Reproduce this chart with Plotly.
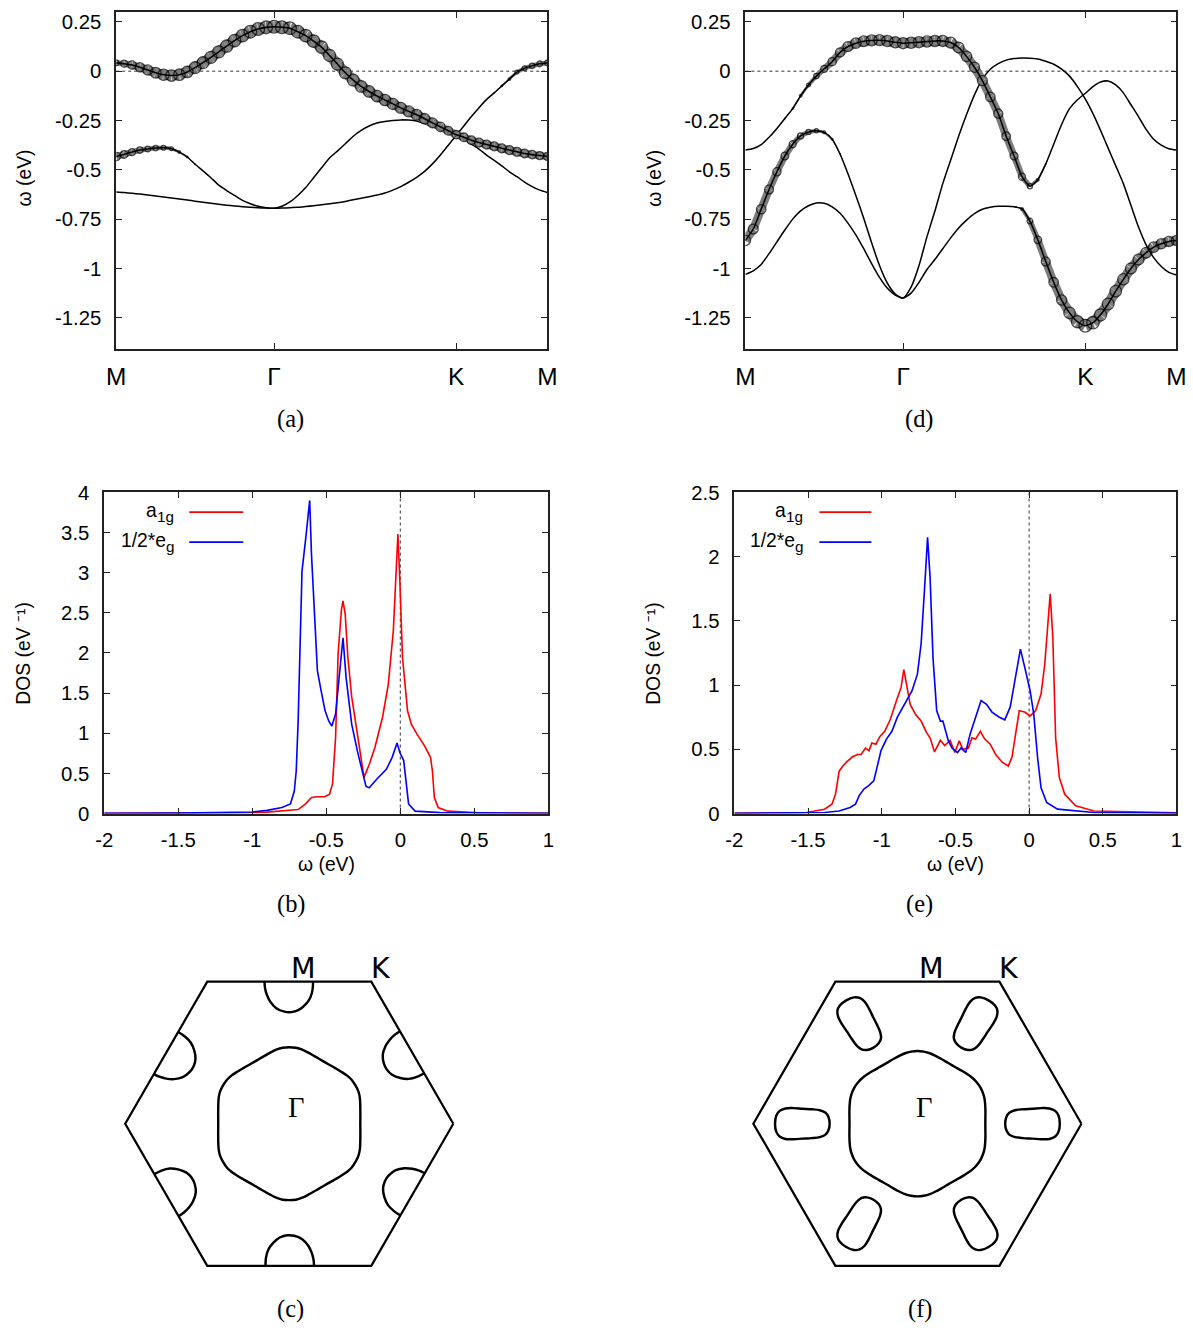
import numpy as np
import plotly.graph_objects as go

W, H = 1193, 1328

# ---------------- band structure: k path ----------------
k_ticks = [0.0, 0.866, 1.866, 2.366]
k_ticktext = ['M', 'Γ', 'K', 'M']
k = np.concatenate([np.linspace(0.0, 0.866, 21),
                    np.linspace(0.866, 1.866, 24)[1:],
                    np.linspace(1.866, 2.366, 13)[1:]])

e_ticks = [0.25, 0, -0.25, -0.5, -0.75, -1, -1.25]
e_ticktext = ['0.25', '0', '-0.25', '-0.5', '-0.75', '-1', '-1.25']

# panel (a): three branches, energies (eV) and a1g weights
a_E1 = [0.042, 0.038, 0.031, 0.020, 0.006, -0.008, -0.018, -0.022, -0.018, -0.004, 0.018, 0.043, 0.070, 0.098, 0.127, 0.155, 0.180, 0.200, 0.214, 0.222, 0.225,
        0.223, 0.218, 0.200, 0.180, 0.152, 0.122, 0.080, 0.036, -0.008, -0.045, -0.077, -0.103, -0.126, -0.146, -0.166, -0.186, -0.204, -0.221, -0.241, -0.262, -0.282, -0.302, -0.322,
        -0.335, -0.350, -0.362, -0.372, -0.381, -0.391, -0.400, -0.409, -0.417, -0.423, -0.428, -0.432]
a_W1 = [0.45, 0.55, 0.65, 0.72, 0.8, 0.85, 0.88, 0.9, 0.9, 0.9, 0.92, 0.93, 0.94, 0.95, 0.96, 0.97, 0.98, 0.99, 1, 1, 1,
        1, 1, 0.99, 0.98, 0.97, 0.96, 0.95, 0.94, 0.93, 0.92, 0.91, 0.9, 0.9, 0.89, 0.88, 0.87, 0.86, 0.85, 0.82, 0.78, 0.74, 0.7, 0.66,
        0.67, 0.68, 0.69, 0.7, 0.7, 0.7, 0.7, 0.7, 0.68, 0.66, 0.64, 0.62]
a_E2 = [-0.433, -0.422, -0.410, -0.400, -0.394, -0.390, -0.388, -0.393, -0.410, -0.435, -0.472, -0.505, -0.540, -0.578, -0.605, -0.630, -0.655, -0.672, -0.685, -0.692, -0.695,
        -0.685, -0.663, -0.630, -0.590, -0.540, -0.490, -0.440, -0.405, -0.368, -0.330, -0.300, -0.278, -0.263, -0.255, -0.250, -0.247, -0.248, -0.252, -0.265, -0.282, -0.297, -0.312, -0.325,
        -0.345, -0.370, -0.395, -0.425, -0.452, -0.480, -0.510, -0.535, -0.562, -0.585, -0.603, -0.615]
a_W2 = [0.65, 0.6, 0.55, 0.5, 0.45, 0.42, 0.38, 0.3, 0.2, 0.12, 0.05] + [0] * 45
a_E3 = [-0.612, -0.615, -0.619, -0.623, -0.628, -0.633, -0.638, -0.643, -0.648, -0.653, -0.659, -0.664, -0.669, -0.674, -0.679, -0.683, -0.687, -0.690, -0.692, -0.694, -0.695,
        -0.694, -0.692, -0.690, -0.686, -0.682, -0.677, -0.672, -0.667, -0.660, -0.652, -0.644, -0.637, -0.628, -0.618, -0.603, -0.585, -0.563, -0.538, -0.508, -0.470, -0.425, -0.375, -0.325,
        -0.278, -0.230, -0.185, -0.143, -0.110, -0.075, -0.040, -0.005, 0.015, 0.027, 0.037, 0.042]
a_W3 = [0] * 48 + [0.05, 0.12, 0.2, 0.3, 0.38, 0.42, 0.45, 0.45]

# panel (d)
d_E1 = [-0.400, -0.392, -0.372, -0.335, -0.290, -0.240, -0.190, -0.125, -0.070, -0.025, 0.012, 0.048, 0.095, 0.125, 0.142, 0.152, 0.156, 0.157, 0.153, 0.146, 0.142,
        0.144, 0.147, 0.150, 0.153, 0.153, 0.145, 0.120, 0.075, 0.020, -0.048, -0.130, -0.215, -0.330, -0.430, -0.535, -0.583, -0.550, -0.470, -0.370, -0.270, -0.190, -0.145, -0.112,
        -0.078, -0.055, -0.050, -0.070, -0.110, -0.170, -0.230, -0.295, -0.345, -0.375, -0.393, -0.400]
d_W1 = [0, 0, 0, 0, 0, 0.05, 0.1, 0.2, 0.3, 0.42, 0.55, 0.65, 0.72, 0.78, 0.82, 0.85, 0.86, 0.87, 0.88, 0.88, 0.88,
        0.88, 0.88, 0.88, 0.88, 0.87, 0.86, 0.85, 0.82, 0.8, 0.78, 0.75, 0.72, 0.68, 0.62, 0.55, 0.4, 0.2, 0.05, 0, 0, 0, 0, 0,
        0, 0, 0, 0, 0, 0, 0, 0, 0, 0, 0, 0]
d_E2 = [-0.858, -0.800, -0.700, -0.600, -0.510, -0.430, -0.370, -0.328, -0.308, -0.302, -0.310, -0.345, -0.420, -0.520, -0.630, -0.745, -0.870, -0.985, -1.075, -1.130, -1.150,
        -1.095, -0.985, -0.840, -0.710, -0.570, -0.450, -0.330, -0.220, -0.120, -0.040, 0.010, 0.038, 0.056, 0.064, 0.067, 0.066, 0.062, 0.050, 0.035, 0.010, -0.025, -0.078, -0.142,
        -0.215, -0.300, -0.390, -0.480, -0.570, -0.680, -0.790, -0.880, -0.945, -0.990, -1.020, -1.033]
d_W2 = [0.8, 0.78, 0.74, 0.7, 0.65, 0.6, 0.55, 0.48, 0.4, 0.32, 0.22, 0.12, 0.05] + [0] * 43
d_E3 = [-1.030, -1.012, -0.980, -0.925, -0.865, -0.805, -0.750, -0.708, -0.682, -0.668, -0.670, -0.688, -0.720, -0.770, -0.830, -0.900, -0.975, -1.045, -1.100, -1.135, -1.150,
        -1.125, -1.070, -1.005, -0.955, -0.900, -0.845, -0.795, -0.755, -0.722, -0.700, -0.690, -0.685, -0.685, -0.687, -0.698, -0.760, -0.855, -0.965, -1.070, -1.160, -1.225, -1.270, -1.290,
        -1.275, -1.235, -1.180, -1.115, -1.055, -1.000, -0.955, -0.920, -0.892, -0.875, -0.863, -0.858]
d_W3 = [0] * 35 + [0.2, 0.45, 0.6, 0.7, 0.75, 0.8, 0.9, 0.95, 1.0] + [0.98, 0.95, 0.92, 0.9, 0.88, 0.86, 0.85, 0.84, 0.82, 0.8, 0.8, 0.8]

# ---------------- DOS data ----------------
b_red_x = [-2.0, -1.5, -1.0, -0.9, -0.794, -0.69, -0.64, -0.60, -0.56, -0.51, -0.478, -0.458, -0.437, -0.42, -0.398, -0.387, -0.372, -0.354, -0.328, -0.29,
           -0.263, -0.245, -0.21, -0.172, -0.12, -0.081, -0.047, -0.03, -0.016, -0.003, 0.015, 0.049, 0.075, 0.113, 0.165, 0.204, 0.217, 0.23, 0.256, 0.32, 0.53, 1.0]
b_red_y = [0.002, 0.004, 0.01, 0.018, 0.03, 0.05, 0.12, 0.2, 0.21, 0.21, 0.24, 0.37, 0.95, 1.99, 2.53, 2.65, 2.48, 1.94, 1.45, 0.99,
           0.61, 0.45, 0.61, 0.82, 1.2, 1.61, 2.28, 2.9, 3.48, 2.9, 1.94, 1.28, 1.11, 0.99, 0.84, 0.70, 0.53, 0.2, 0.075, 0.03, 0.01, 0.004]
b_blue_x = [-2.0, -1.5, -1.0, -0.9, -0.8, -0.742, -0.716, -0.703, -0.69, -0.677, -0.664, -0.638, -0.612, -0.6, -0.58, -0.56, -0.535, -0.508, -0.483, -0.462,
            -0.437, -0.41, -0.387, -0.366, -0.328, -0.29, -0.25, -0.232, -0.21, -0.158, -0.094, -0.055, -0.022, -0.003, 0.023, 0.04, 0.056, 0.1, 0.27, 1.0]
b_blue_y = [0.003, 0.006, 0.02, 0.04, 0.075, 0.12, 0.28, 0.53, 1.15, 2.19, 3.02, 3.44, 3.9, 3.23, 2.4, 1.78, 1.53, 1.28, 1.15, 1.09,
            1.24, 1.78, 2.19, 1.69, 1.11, 0.78, 0.45, 0.34, 0.32, 0.43, 0.55, 0.70, 0.88, 0.76, 0.66, 0.37, 0.12, 0.03, 0.012, 0.004]

e_red_x = [-2.0, -1.7, -1.51, -1.388, -1.338, -1.314, -1.289, -1.264, -1.24, -1.2, -1.165, -1.14, -1.11, -1.086, -1.067, -1.04, -1.012, -0.98, -0.943, -0.894,
           -0.869, -0.85, -0.832, -0.807, -0.77, -0.733, -0.696, -0.672, -0.642, -0.602, -0.573, -0.536, -0.504, -0.474, -0.45, -0.412, -0.388, -0.363, -0.331, -0.301,
           -0.264, -0.227, -0.183, -0.141, -0.116, -0.091, -0.067, -0.03, 0.007, 0.044, 0.081, 0.106, 0.126, 0.143, 0.161, 0.18, 0.205, 0.242, 0.316, 0.44, 1.0]
e_red_y = [0.002, 0.004, 0.008, 0.034, 0.073, 0.15, 0.33, 0.37, 0.40, 0.44, 0.46, 0.46, 0.51, 0.49, 0.55, 0.54, 0.60, 0.64, 0.73, 0.90,
           0.98, 1.12, 1.01, 0.85, 0.77, 0.72, 0.63, 0.59, 0.48, 0.57, 0.53, 0.57, 0.475, 0.566, 0.50, 0.51, 0.59, 0.58, 0.64, 0.58,
           0.54, 0.46, 0.40, 0.37, 0.44, 0.62, 0.80, 0.79, 0.76, 0.80, 0.93, 1.16, 1.5, 1.71, 1.37, 0.59, 0.28, 0.15, 0.06, 0.02, 0.005]
e_blue_x = [-2.0, -1.6, -1.388, -1.289, -1.215, -1.178, -1.153, -1.121, -1.091, -1.054, -1.03, -1.005, -0.968, -0.931, -0.894, -0.844, -0.795, -0.758, -0.733, -0.709,
            -0.689, -0.672, -0.652, -0.627, -0.602, -0.585, -0.568, -0.548, -0.523, -0.486, -0.462, -0.43, -0.4, -0.363, -0.326, -0.289, -0.252, -0.202, -0.165, -0.128,
            -0.091, -0.059, -0.03, 0.007, 0.032, 0.057, 0.081, 0.119, 0.193, 0.44, 1.0]
e_blue_y = [0.002, 0.004, 0.008, 0.02, 0.047, 0.073, 0.14, 0.19, 0.215, 0.254, 0.38, 0.49, 0.58, 0.64, 0.75, 0.85, 0.955, 1.085, 1.32, 1.76,
            2.15, 1.84, 1.21, 0.80, 0.72, 0.72, 0.64, 0.566, 0.51, 0.475, 0.51, 0.475, 0.62, 0.75, 0.88, 0.85, 0.79, 0.75, 0.73, 0.83,
            1.06, 1.28, 1.14, 0.955, 0.77, 0.44, 0.2, 0.086, 0.034, 0.008, 0.003]

dos_xticks = [-2, -1.5, -1, -0.5, 0, 0.5, 1]
dos_xticktext = ['-2', '-1.5', '-1', '-0.5', '0', '0.5', '1']
b_yticks = [0, 0.5, 1, 1.5, 2, 2.5, 3, 3.5, 4]
b_yticktext = ['0', '0.5', '1', '1.5', '2', '2.5', '3', '3.5', '4']
e_yticks = [0, 0.5, 1, 1.5, 2, 2.5]
e_yticktext = ['0', '0.5', '1', '1.5', '2', '2.5']

# ---------------- Fermi surface data (BZ units, Gamma-K = 1) ----------------
gamma_theta_deg = [0, 5, 10, 15, 20, 25, 30]
c_gamma_r = [0.433, 0.435, 0.440, 0.448, 0.458, 0.465, 0.466]
f_gamma_r = [0.414, 0.416, 0.421, 0.428, 0.436, 0.441, 0.443]
c_pocket_t = [-0.151, -0.148, -0.137, -0.116, -0.079, -0.030, 0.012, 0.055, 0.098, 0.128, 0.142, 0.145]
c_pocket_d = [0.0, 0.037, 0.079, 0.122, 0.162, 0.183, 0.186, 0.174, 0.140, 0.098, 0.049, 0.0]
f_pocket_center = 0.70
f_pocket_u = [-0.165, -0.157, -0.138, -0.105, -0.055, 0.0, 0.055, 0.105, 0.140, 0.160, 0.168]
f_pocket_v = [0.0, 0.042, 0.068, 0.082, 0.088, 0.091, 0.095, 0.093, 0.078, 0.050, 0.0]

# ---------------- page placement helpers ----------------
# the photographed page shows the figure slightly shrunk with a small white border;
# positions below are given in target-picture pixels and mapped back onto the figure.
S, O = 0.983, 10.8
G = 1 / S

def fpx(p, n):
    return min(max((p - O) / S, 1.0), n - 1.0)

def px(p):
    return fpx(p, W) / W

def py(p):
    return 1 - fpx(p, H) / H

fig = go.Figure()

FONT = 'Liberation Sans, Arial, sans-serif'
SERIF = 'Liberation Serif, Times New Roman, serif'
AX = dict(showline=True, linecolor='#222', linewidth=1.5 * G, mirror='allticks', ticks='inside',
          ticklen=6 * G, tickwidth=1, tickcolor='#222', showgrid=False, zeroline=False,
          tickfont=dict(family=FONT, size=20 * G, color='black'))

def add_bands(xa, ya, branches):
    for E, Wt in branches:
        for i in range(len(k) - 1):
            w = 0.5 * (Wt[i] + Wt[i + 1])
            if w >= 0.05:
                fig.add_trace(go.Scatter(x=[k[i], k[i + 1]], y=[E[i], E[i + 1]], mode='lines',
                                         xaxis=xa, yaxis=ya,
                                         line=dict(color='#7c7c7c', width=11 * G * w),
                                         hoverinfo='skip', showlegend=False))
        fig.add_trace(go.Scatter(x=k, y=E, mode='lines', xaxis=xa, yaxis=ya,
                                 line=dict(color='black', width=1.5 * G, shape='spline', smoothing=0.6),
                                 hoverinfo='skip', showlegend=False))
        sizes = [12.5 * G * w if w >= 0.05 else 0 for w in Wt]
        fig.add_trace(go.Scatter(x=k, y=E, mode='markers', xaxis=xa, yaxis=ya,
                                 marker=dict(symbol='circle-open', size=sizes, color='black',
                                             line=dict(width=1.3, color='black')),
                                 hoverinfo='skip', showlegend=False))

add_bands('x', 'y', [(a_E3, a_W3), (a_E2, a_W2), (a_E1, a_W1)])
add_bands('x2', 'y2', [(d_E3, d_W3), (d_E2, d_W2), (d_E1, d_W1)])

def add_dos(xa, ya, rx, ry, bx, by):
    fig.add_trace(go.Scatter(x=rx, y=ry, mode='lines', xaxis=xa, yaxis=ya,
                             line=dict(color='#ff0000', width=1.6 * G), hoverinfo='skip', showlegend=False))
    fig.add_trace(go.Scatter(x=bx, y=by, mode='lines', xaxis=xa, yaxis=ya,
                             line=dict(color='#0000ff', width=1.6 * G), hoverinfo='skip', showlegend=False))

add_dos('x3', 'y3', b_red_x, b_red_y, b_blue_x, b_blue_y)
add_dos('x4', 'y4', e_red_x, e_red_y, e_blue_x, e_blue_y)

def hexagon():
    ang = np.radians(np.arange(0, 361, 60))
    return np.cos(ang), np.sin(ang)

def gamma_pocket(rs):
    th, rr = [], []
    for n in range(6):
        for s, r in zip(gamma_theta_deg, rs):
            th.append(60 * n + s); rr.append(r)
        for s, r in zip(gamma_theta_deg[::-1][1:-1], rs[::-1][1:-1]):
            th.append(60 * n + 60 - s); rr.append(r)
    th.append(th[0]); rr.append(rr[0])
    th = np.radians(th); rr = np.array(rr)
    return rr * np.cos(th), rr * np.sin(th)

def add_fs(xa, ya, rs, pockets):
    hx, hy = hexagon()
    fig.add_trace(go.Scatter(x=hx, y=hy, mode='lines', xaxis=xa, yaxis=ya,
                             line=dict(color='black', width=2.2 * G), hoverinfo='skip', showlegend=False))
    gx, gy = gamma_pocket(rs)
    fig.add_trace(go.Scatter(x=gx, y=gy, mode='lines', xaxis=xa, yaxis=ya,
                             line=dict(color='black', width=2.4 * G, shape='spline', smoothing=0.8),
                             hoverinfo='skip', showlegend=False))
    for px_, py_ in pockets:
        fig.add_trace(go.Scatter(x=px_, y=py_, mode='lines', xaxis=xa, yaxis=ya,
                                 line=dict(color='black', width=2.4 * G, shape='spline', smoothing=1.0),
                                 hoverinfo='skip', showlegend=False))

c_pockets = []
for n in range(6):
    phi = np.radians(90 + 60 * n)
    m0 = 0.866 * np.array([np.cos(phi), np.sin(phi)])
    tv = np.array([np.sin(phi), -np.cos(phi)])
    nv = -np.array([np.cos(phi), np.sin(phi)])
    t = np.array(c_pocket_t); d = np.array(c_pocket_d)
    pts = m0[:, None] + tv[:, None] * t + nv[:, None] * d
    c_pockets.append((pts[0], pts[1]))

f_pockets = []
u_full = np.array(f_pocket_u + f_pocket_u[::-1][1:])
v_full = np.array(f_pocket_v + [-v for v in f_pocket_v[::-1][1:]])
for n in range(6):
    phi = np.radians(60 * n)
    rv = np.array([np.cos(phi), np.sin(phi)])
    pv = np.array([-np.sin(phi), np.cos(phi)])
    pts = rv[:, None] * (f_pocket_center + u_full) + pv[:, None] * v_full
    f_pockets.append((pts[0], pts[1]))

add_fs('x5', 'y5', c_gamma_r, c_pockets)
add_fs('x6', 'y6', f_gamma_r, f_pockets)

band_y = [py(349), py(6.7)]
dos_y = [py(813), py(492)]
fs_y = [py(1291), py(955)]

bx = dict(AX, tickvals=k_ticks, ticktext=k_ticktext, range=[0, 2.366],
          tickfont=dict(family=FONT, size=24 * G, color='black'), ticklabelstandoff=5)
by = dict(AX, tickvals=e_ticks, ticktext=e_ticktext, range=[-1.41, 0.30], ticklabelstandoff=9)

fig.update_layout(
    xaxis=dict(bx, domain=[px(117), px(548)], anchor='y'),
    yaxis=dict(by, domain=band_y, anchor='x'),
    xaxis2=dict(bx, domain=[px(746), px(1177)], anchor='y2'),
    yaxis2=dict(by, domain=band_y, anchor='x2'),
    xaxis3=dict(AX, domain=[px(105), px(549)], anchor='y3', range=[-2, 1],
                tickvals=dos_xticks, ticktext=dos_xticktext, ticklabelstandoff=7),
    yaxis3=dict(AX, domain=dos_y, anchor='x3', range=[0, 4],
                tickvals=b_yticks, ticktext=b_yticktext, ticklabelstandoff=9),
    xaxis4=dict(AX, domain=[px(735), px(1177)], anchor='y4', range=[-2, 1],
                tickvals=dos_xticks, ticktext=dos_xticktext, ticklabelstandoff=7),
    yaxis4=dict(AX, domain=dos_y, anchor='x4', range=[0, 2.5],
                tickvals=e_yticks, ticktext=e_yticktext, ticklabelstandoff=9),
    xaxis5=dict(domain=[px(110), px(470)], anchor='y5', range=[-1.0976, 1.0976], visible=False),
    yaxis5=dict(domain=fs_y, anchor='x5', range=[-1.0244, 1.0244], visible=False),
    xaxis6=dict(domain=[px(738), px(1098)], anchor='y6', range=[-1.0976, 1.0976], visible=False),
    yaxis6=dict(domain=fs_y, anchor='x6', range=[-1.0244, 1.0244], visible=False),
    width=W, height=H, margin=dict(l=0, r=0, t=0, b=0),
    paper_bgcolor='white', plot_bgcolor='white', showlegend=False,
)

shapes = []
for xa, ya in [('x', 'y'), ('x2', 'y2')]:
    shapes.append(dict(type='line', xref=xa + ' domain', yref=ya, x0=0, x1=1, y0=0, y1=0,
                       line=dict(color='#333', width=1, dash='dot'), layer='below'))
for xa, ya in [('x3', 'y3'), ('x4', 'y4')]:
    shapes.append(dict(type='line', xref=xa, yref=ya + ' domain', x0=0, x1=0, y0=0, y1=1,
                       line=dict(color='#333', width=1, dash='dot'), layer='below'))
for (x0, x1) in [(190, 244), (820, 872)]:
    shapes.append(dict(type='line', xref='paper', yref='paper', x0=px(x0), x1=px(x1),
                       y0=py(511.7), y1=py(511.7), line=dict(color='#ff0000', width=1.6 * G)))
    shapes.append(dict(type='line', xref='paper', yref='paper', x0=px(x0), x1=px(x1),
                       y0=py(541.7), y1=py(541.7), line=dict(color='#0000ff', width=1.6 * G)))
fig.update_layout(shapes=shapes)

ann = []
def add_text(text, x, y, size, family=FONT, angle=0, xanchor='center', yanchor='middle', ref=('paper', 'paper'), yshift=0, xshift=0):
    ann.append(dict(text=text, x=x, y=y, xref=ref[0], yref=ref[1], showarrow=False,
                    font=dict(family=family, size=size * G, color='black'), textangle=angle,
                    xanchor=xanchor, yanchor=yanchor, yshift=yshift, xshift=xshift))

for lab, x, y in [('(a)', 291, 419), ('(d)', 920, 419), ('(b)', 292, 903), ('(e)', 920, 903),
                  ('(c)', 291, 1308), ('(f)', 921, 1308)]:
    add_text(lab, px(x), py(y), 24, family=SERIF)
add_text('ω (eV)', px(25), py(178), 19, angle=-90)
add_text('ω (eV)', px(655), py(178), 19, angle=-90)
add_text('DOS (eV ⁻¹)', px(24), py(653), 19, angle=-90)
add_text('DOS (eV ⁻¹)', px(654), py(653), 19, angle=-90)
add_text('ω (eV)', px(327), py(864), 19)
add_text('ω (eV)', px(956), py(864), 19)
# legend labels: main text and subscript as separate texts (gnuplot-like, text left of the sample line)
for xr in [177, 806]:
    add_text('1g', px(xr), py(516), 15, xanchor='right')
    add_text('a', px(xr - 17), py(510), 19, xanchor='right')
    add_text('g', px(xr), py(546), 15, xanchor='right')
    add_text('1/2*e', px(xr - 8.5), py(540), 19, xanchor='right')
for xa, ya in [('x5', 'y5'), ('x6', 'y6')]:
    add_text('M', 0.0, 0.866, 28, family='DejaVu Sans, sans-serif', xanchor='left', yanchor='bottom', ref=(xa, ya), yshift=-5)
    add_text('K', 0.5, 0.866, 28, family='DejaVu Sans, sans-serif', xanchor='left', yanchor='bottom', ref=(xa, ya), yshift=-5, xshift=-2)
    add_text('Γ', 0.042, 0.10, 28, family=SERIF, ref=(xa, ya))
fig.update_layout(annotations=ann)

fig.write_html('out.html', config={'displayModeBar': False},
               post_script="document.body.style.margin='0px';document.body.style.padding='0px';"
                           "document.documentElement.style.overflow='hidden';")
